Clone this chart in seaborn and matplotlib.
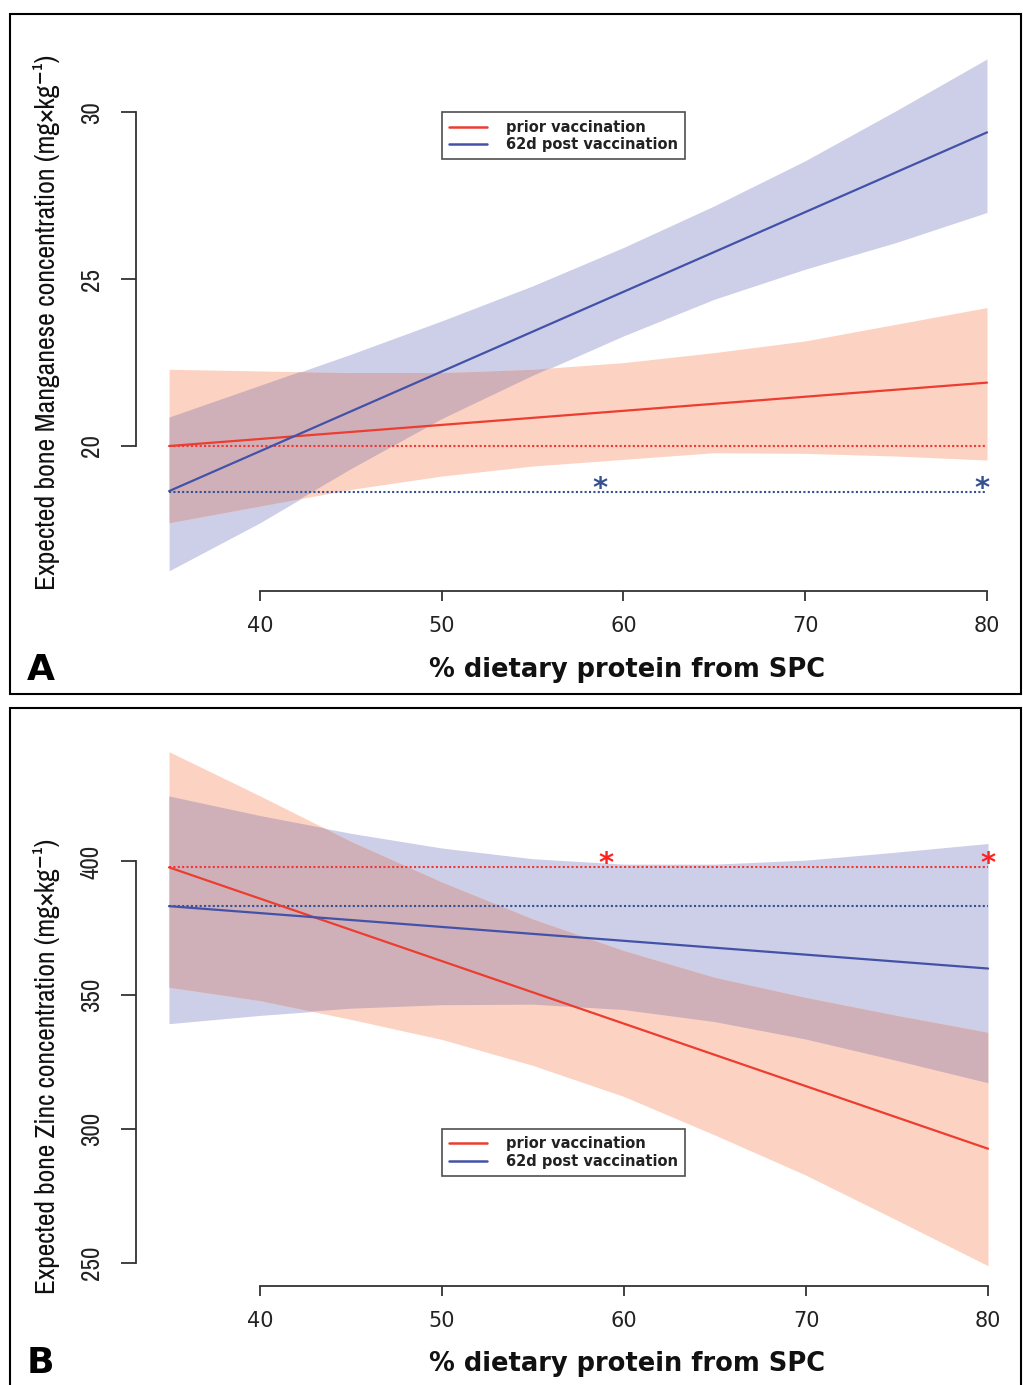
import matplotlib
matplotlib.use("Agg")
import matplotlib.pyplot as plt
from matplotlib import font_manager as fm
from matplotlib.lines import Line2D
from matplotlib.patches import Rectangle
import pandas as pd
import seaborn as sns

# ---------------------------------------------------------------- data
# % dietary protein from SPC at which the confidence limits are listed
spc_grid = [35, 40, 45, 50, 55, 60, 65, 70, 75, 80]
# end points of the fitted straight lines
spc_ends = [35, 80]

# Panel A - expected bone manganese (mg/kg)
mn_prior_fit = [20.0, 21.9]
mn_post_fit = [18.65, 29.4]
mn_prior_lo = [17.7, 18.2, 18.7, 19.1, 19.4, 19.6, 19.8, 19.78, 19.7, 19.58]
mn_prior_hi = [22.3, 22.25, 22.2, 22.2, 22.3, 22.5, 22.8, 23.15, 23.65, 24.15]
mn_post_lo = [16.26, 17.7, 19.3, 20.8, 22.1, 23.3, 24.4, 25.3, 26.1, 27.0]
mn_post_hi = [20.85, 21.8, 22.75, 23.75, 24.8, 25.95, 27.2, 28.55, 30.05, 31.6]
mn_prior_ref = 20.0
mn_post_ref = 18.63
mn_star_x = [58.7, 79.7]
mn_star_y = 18.9
mn_yticks = [20, 25, 30]

# Panel B - expected bone zinc (mg/kg)
zn_prior_fit = [397.8, 292.7]
zn_post_fit = [383.3, 360.0]
zn_prior_lo = [353, 348, 341, 333.5, 323.8, 312.2, 297.8, 282.8, 266, 249]
zn_prior_hi = [441, 424.5, 407.5, 392.3, 378.5, 366.7, 356.7, 349.2, 342.5, 336.2]
zn_post_lo = [339.4, 342.5, 345, 346.3, 346.5, 344.5, 340, 333.5, 325.5, 317.2]
zn_post_hi = [424.3, 417, 410.5, 405, 401, 399, 399, 400.5, 403.5, 406.7]
zn_prior_ref = 397.8
zn_post_ref = 383.3
zn_star_x = [59.0, 80.0]
zn_star_y = 401.4
zn_yticks = [250, 300, 350, 400]

xticks = [40, 50, 60, 70, 80]
groups = ["prior vaccination", "62d post vaccination"]

# ---------------------------------------------------------------- style
sns.set_theme(style="white")
plt.rcParams["font.family"] = ["DejaVu Sans"]

# a narrow face for the vertical texts
_narrow = sorted({f.name for f in fm.fontManager.ttflist
                  if "Narrow" in f.name or "Condensed" in f.name})
if _narrow:
    NARROW = {"family": [_narrow[0], "DejaVu Sans"], "stretch": "normal"}
else:
    NARROW = {"family": ["DejaVu Sans"], "stretch": "condensed"}

RED = "#ec3d30"
BLUE = "#4352a8"
RED_DOT = "#f23535"
BLUE_DOT = "#34508e"
RED_FILL = "#fcd3c2"
BLUE_FILL = "#cdcfe8"
BOTH_FILL = "#cfb0b9"
AXIS = "#333333"
palette = {groups[0]: RED, groups[1]: BLUE}

W, H = 1023, 1385
fig = plt.figure(figsize=(W / 100, H / 100), dpi=100)
fig.patch.set_facecolor("white")


def r_limits(values):
    lo, hi = min(values), max(values)
    pad = 0.04 * (hi - lo)
    return lo - pad, hi + pad


def draw_panel(ax, prior_fit, post_fit, prior_lo, prior_hi, post_lo, post_hi,
               prior_ref, post_ref, star_x, star_y, star_color, yticks,
               ylabel, ylabel_xy, xlabel_xy, legend_anchor):
    # confidence bands: post-vaccination band, prior band, and their overlap
    post_band = ax.fill_between(spc_grid, post_lo, post_hi, color=BLUE_FILL, lw=0, zorder=1)
    ax.fill_between(spc_grid, prior_lo, prior_hi, color=RED_FILL, lw=0, zorder=1.1)
    both = ax.fill_between(spc_grid, prior_lo, prior_hi, color=BOTH_FILL, lw=0, zorder=1.2)
    both.set_clip_path(post_band.get_paths()[0], ax.transData)

    # reference levels at 35 % SPC
    ax.hlines(prior_ref, spc_ends[0], spc_ends[1], colors=RED_DOT, lw=1.5,
              linestyles=(0, (1, 1.1)), zorder=2)
    ax.hlines(post_ref, spc_ends[0], spc_ends[1], colors=BLUE_DOT, lw=1.5,
              linestyles=(0, (1, 1.1)), zorder=2)

    # fitted lines
    df = pd.DataFrame({
        "spc": spc_ends + spc_ends,
        "value": prior_fit + post_fit,
        "group": [groups[0]] * 2 + [groups[1]] * 2,
    })
    sns.lineplot(data=df, x="spc", y="value", hue="group", palette=palette,
                 lw=1.6, legend=False, estimator=None, sort=False, ax=ax, zorder=3)

    for sx in star_x:
        ax.annotate("*", xy=(sx, star_y), xytext=(0, -4.5), textcoords="offset points",
                    ha="center", va="center", fontsize=21, fontweight="bold",
                    color=star_color, zorder=4)

    ax.set_xlim(*r_limits(spc_ends))
    ax.set_ylim(*r_limits(prior_lo + prior_hi + post_lo + post_hi))

    for side in ("top", "right"):
        ax.spines[side].set_visible(False)
    for side in ("left", "bottom"):
        ax.spines[side].set_color(AXIS)
        ax.spines[side].set_linewidth(1.3)
    ax.spines["left"].set_bounds(yticks[0], yticks[-1])
    ax.spines["bottom"].set_bounds(xticks[0], xticks[-1])

    ax.set_xticks(xticks)
    ax.set_yticks(yticks)
    ax.tick_params(axis="x", bottom=True, direction="out", length=7.5, width=1.3,
                   color=AXIS, pad=10, labelsize=15, labelcolor="#222222")
    ax.tick_params(axis="y", left=True, direction="out", length=11, width=1.3,
                   color=AXIS, pad=13, labelsize=18, labelcolor="#222222",
                   labelrotation=90)
    for lbl in ax.get_yticklabels():
        lbl.set_fontfamily(NARROW["family"])
        lbl.set_fontstretch(NARROW["stretch"])
        lbl.set_fontweight("semibold")
        lbl.set_verticalalignment("center")

    ax.set_ylabel(ylabel, fontfamily=NARROW["family"], fontstretch=NARROW["stretch"],
                  fontweight="semibold", fontsize=20, color="#111111")
    ax.yaxis.set_label_coords(*ylabel_xy)
    ax.set_xlabel("% dietary protein from SPC", fontsize=18.5, fontweight="bold",
                  color="#111111")
    ax.xaxis.set_label_coords(*xlabel_xy)

    handles = [Line2D([], [], color=palette[g], lw=1.8) for g in groups]
    leg = ax.legend(handles, groups, loc="upper left", bbox_to_anchor=legend_anchor,
                    bbox_transform=ax.transData, borderaxespad=0, frameon=True,
                    fancybox=False, edgecolor="#222222",
                    prop={"weight": "bold", "size": 10.5}, handlelength=2.6,
                    handletextpad=1.3, borderpad=0.5, labelspacing=0.15)
    leg.get_frame().set_linewidth(1.2)
    for t in leg.get_texts():
        t.set_color("#222222")


axA = fig.add_axes([136.4 / W, 1 - 591.3 / H, 883.3 / W, 552.8 / H])
draw_panel(axA, mn_prior_fit, mn_post_fit, mn_prior_lo, mn_prior_hi,
           mn_post_lo, mn_post_hi, mn_prior_ref, mn_post_ref,
           mn_star_x, mn_star_y, BLUE_DOT, mn_yticks,
           "Expected bone Manganese concentration (mg×kg⁻¹)",
           (-0.0865, 0.487), (0.5554, -0.119), (50, 30))

axB = fig.add_axes([136.2 / W, 1 - 1286.3 / H, 884.6 / W, 555.2 / H])
draw_panel(axB, zn_prior_fit, zn_post_fit, zn_prior_lo, zn_prior_hi,
           zn_post_lo, zn_post_hi, zn_prior_ref, zn_post_ref,
           zn_star_x, zn_star_y, "#ff2020", zn_yticks,
           "Expected bone Zinc concentration (mg×kg⁻¹)",
           (-0.0861, 0.397), (0.5548, -0.1165), (50, 300))

# fit the vertical axis titles to their lengths in pixels
fig.canvas.draw()
renderer = fig.canvas.get_renderer()
for ax, length_px in ((axA, 535), (axB, 455)):
    lab = ax.yaxis.label
    ext = lab.get_window_extent(renderer)
    lab.set_fontsize(lab.get_fontsize() * length_px / ext.height)

# panel letters and frames
fig.text(27 / W, 1 - 680 / H, "A", fontsize=26, fontweight="bold", ha="left",
         va="baseline", color="black")
fig.text(27 / W, 1 - 1373 / H, "B", fontsize=26, fontweight="bold", ha="left",
         va="baseline", color="black")
fig.add_artist(Rectangle((10 / W, 1 - 694 / H), 1011 / W, 680 / H,
                         transform=fig.transFigure, fill=False, ec="black", lw=1.5))
fig.add_artist(Rectangle((10 / W, -0.01), 1011 / W, 1 - 708 / H + 0.01,
                         transform=fig.transFigure, fill=False, ec="black", lw=1.5))

fig.savefig("out.png", dpi=100, facecolor="white")
